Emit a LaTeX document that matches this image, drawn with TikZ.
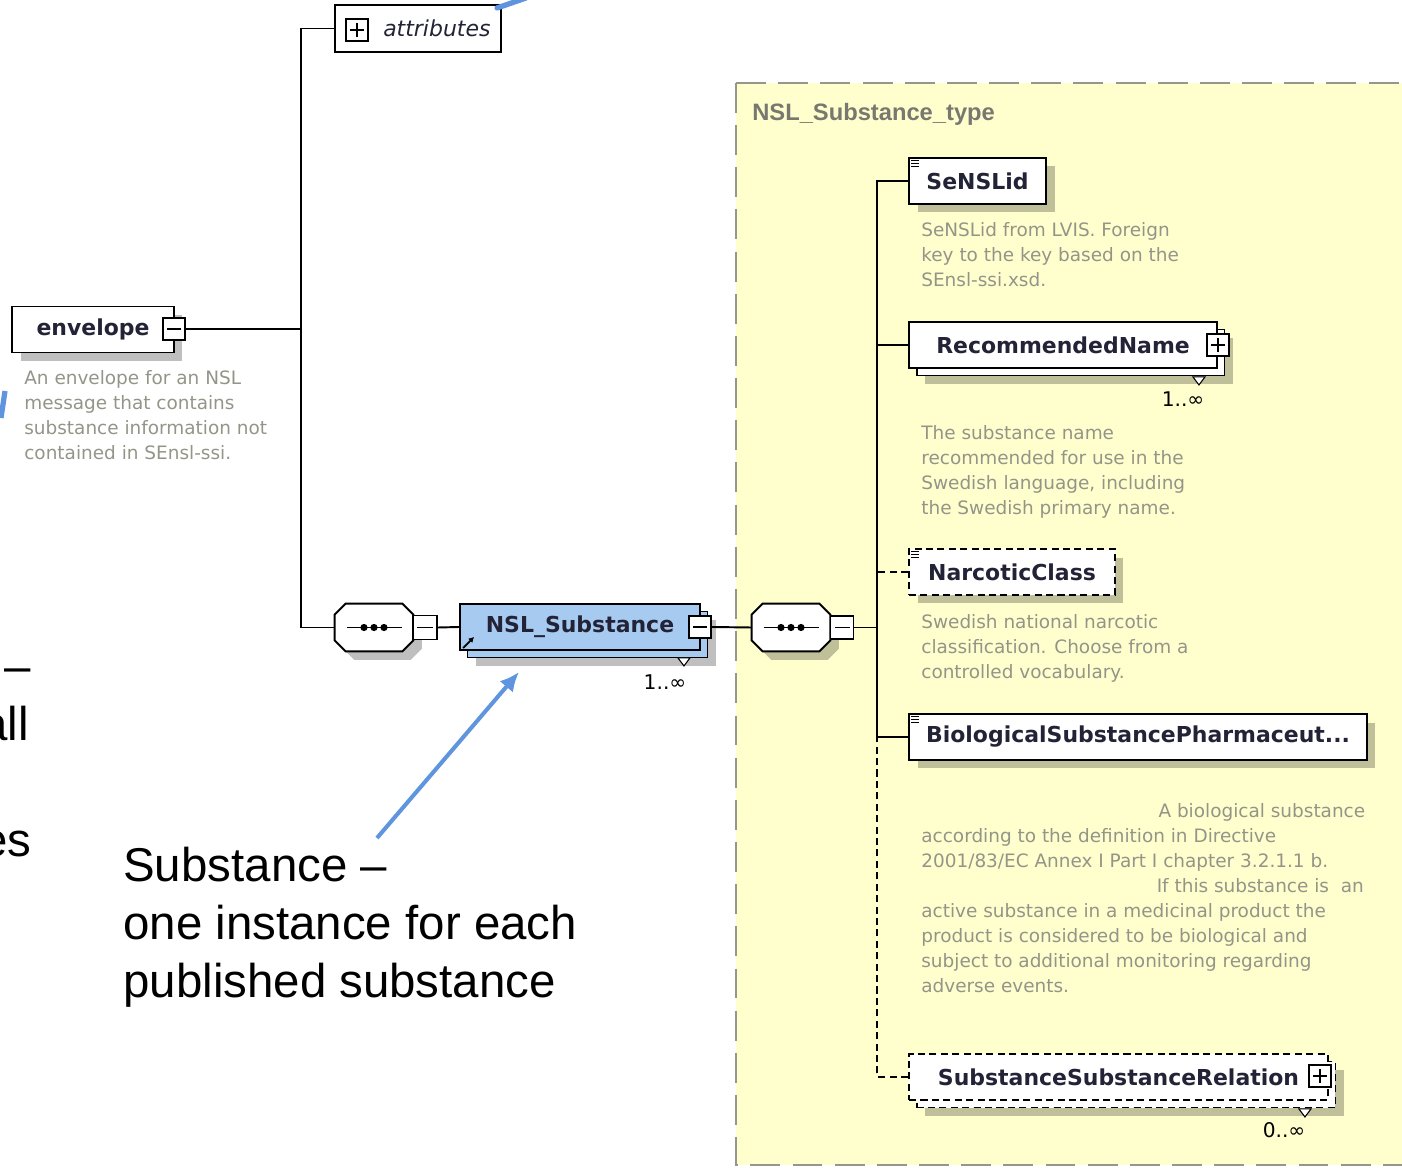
\documentclass[tikz,border=0pt]{standalone}
\usepackage{fontspec}
\setmainfont{DejaVu Sans}
\newfontfamily\arialfont{Liberation Sans}
\usetikzlibrary{shadows,arrows.meta}

\definecolor{typeyellow}{RGB}{255,255,206}
\definecolor{typeborder}{RGB}{150,150,140}
\definecolor{descgray}{RGB}{148,148,136}
\definecolor{namecol}{RGB}{35,35,55}
\definecolor{nslblue}{RGB}{166,202,240}
\definecolor{noteblue}{RGB}{95,148,222}

\tikzset{
  conn/.style={line width=1.1pt},
  optconn/.style={line width=1.1pt, dash pattern=on 4pt off 2.5pt},
  elembase/.style={draw, line width=1.1pt, fill=white, minimum height=0.92cm, inner sep=0pt,
    font=\bfseries\fontsize{12.5}{15}\selectfont, text=namecol},
  elem/.style={elembase, drop shadow={shadow xshift=0.17cm, shadow yshift=-0.17cm, fill=black, opacity=0.25}},
  multielem/.style={elembase, drop shadow={shadow xshift=0.32cm, shadow yshift=-0.32cm, fill=black, opacity=0.25},
    copy shadow={shadow xshift=0.15cm, shadow yshift=-0.15cm}},
  optional/.style={dash pattern=on 4pt off 2.5pt},
  togglebox/.style={draw, line width=1pt, fill=white, minimum size=0.44cm, inner sep=0pt},
  minusbox/.style={togglebox, path picture={
    \draw[line width=0.9pt] ([xshift=0.08cm]path picture bounding box.west) -- ([xshift=-0.08cm]path picture bounding box.east);}},
  plusbox/.style={togglebox, path picture={
    \draw[line width=0.9pt] ([xshift=0.08cm]path picture bounding box.west) -- ([xshift=-0.08cm]path picture bounding box.east);
    \draw[line width=0.9pt] ([yshift=-0.08cm]path picture bounding box.north) -- ([yshift=0.08cm]path picture bounding box.south);}},
  seqsym/.style={minimum width=1.56cm, minimum height=0.94cm, inner sep=0pt},
  seqoutline/.style={draw, line width=1.1pt, fill=white,
    drop shadow={shadow xshift=0.17cm, shadow yshift=-0.17cm, fill=black, opacity=0.25}},
  desc/.style={anchor=north west, align=left, inner sep=0pt, font=\fontsize{10.5}{14.2}\selectfont, text=descgray},
  mult/.style={inner sep=0pt, font=\fontsize{11.5}{13}\selectfont},
  typebox/.style={draw=typeborder, fill=typeyellow, line width=1.1pt, dash pattern=on 17pt off 7pt},
  typetitle/.style={anchor=west, inner sep=0pt, text=typeborder!80!black, font=\arialfont\bfseries\fontsize{13.5}{16}\selectfont},
  notetext/.style={inner sep=0pt, align=left, font=\arialfont\fontsize{27}{33}\selectfont},
  bluearrow/.style={draw=noteblue, line width=2.3pt}
}

\begin{document}
\begin{tikzpicture}[x=0.02cm, y=-0.02cm]
  \path[use as bounding box, clip] (0,0) rectangle (1402,1168);

  % Type box
  \draw[typebox] (736,83) rectangle (1440,1165);
  \node[typetitle] (typeTitle) at (752,114) {NSL\_Substance\_type};

  % Root element and attributes
  \node[elem, minimum width=3.24cm] (env) at (93,329.5) {envelope};
  \node[minusbox] (minusE) at (174,329) {};
  \node[desc] (envDesc) at (24,370) {An envelope for an NSL\\message that contains\\substance information not\\contained in SEnsl-ssi.};
  \node[elembase, font=\itshape\fontsize{12.5}{15}\selectfont, text width=2.9cm, align=right,
    inner xsep=0.21cm, minimum height=0.94cm] (attr) at (418,28.5) {attributes};
  \node[plusbox] (plusA) at (357,30) {};

  % Sequences
  \node[seqsym] (seqA) at (374,627.5) {};
  \node[seqsym] (seqB) at (791,627.5) {};
  \foreach \s in {seqA,seqB} {
    \draw[seqoutline] ([xshift=0.22cm]\s.north west) -- ([xshift=-0.22cm]\s.north east)
      -- ([yshift=-0.22cm]\s.north east) -- ([yshift=0.22cm]\s.south east)
      -- ([xshift=-0.22cm]\s.south east) -- ([xshift=0.22cm]\s.south west)
      -- ([yshift=0.22cm]\s.south west) -- ([yshift=-0.22cm]\s.north west) -- cycle;
    \draw[line width=1pt] ([xshift=-0.55cm]\s.center) -- ([xshift=0.55cm]\s.center);
    \foreach \dx in {-10,0,10}
      \fill ([xshift=\dx*0.02cm]\s.center) circle (3.6);
  }
  \node[minusbox, minimum size=0.48cm] (minusA) at (425,627.5) {};
  \node[minusbox, minimum size=0.46cm] (minusB) at (842,627.5) {};

  % NSL_Substance
  \node[multielem, fill=nslblue, minimum width=4.8cm] (nsl) at (580,627) {NSL\_Substance};
  \node[minusbox] (minusN) at (700,627) {};
  \draw[fill=white, line width=0.6pt] ([shift={(-23,7)}]nsl.south east) -- ++(12,0) -- ++(-6,8) -- cycle;
  \node[mult] (multN) at (665,682) {1..∞};
  \draw[line width=1pt, -{Latex[length=3pt,width=3.5pt]}] ([shift={(4,-3)}]nsl.south west) -- ++(11,-11);

  % Child elements
  \node[elem, minimum width=2.74cm] (sensl) at (977.5,181) {SeNSLid};
  \node[desc] (senslDesc) at (921,222) {SeNSLid from LVIS. Foreign\\key to the key based on the\\SEnsl-ssi.xsd.};

  \node[multielem, minimum width=6.16cm] (rec) at (1063,345) {RecommendedName};
  \node[plusbox] (plusR) at (1218,345) {};
  \draw[fill=white, line width=0.6pt] ([shift={(-25,8)}]rec.south east) -- ++(12,0) -- ++(-6,8) -- cycle;
  \node[mult] (multR) at (1183,399) {1..∞};
  \node[desc] (recDesc) at (921,425) {The substance name\\recommended for use in the\\Swedish language, including\\the Swedish primary name.};

  \node[elem, optional, minimum width=4.12cm] (narc) at (1012,572) {NarcoticClass};
  \node[desc] (narcDesc) at (921,614) {Swedish national narcotic\\classification. Choose from a\\controlled vocabulary.};

  \node[elem, minimum width=9.16cm] (bio) at (1138,737) {BiologicalSubstancePharmaceut...};
  \node[desc] (bioDesc) at (921,803) {\hspace*{135pt}A biological substance\\according to the definition in Directive\\2001/83/EC Annex I Part I chapter 3.2.1.1 b.\\\hspace*{134pt}If this substance is\ \ an\\active substance in a medicinal product the\\product is considered to be biological and\\subject to additional monitoring regarding\\adverse events.};

  \node[multielem, optional, minimum width=8.38cm] (ssr) at (1118.5,1077) {SubstanceSubstanceRelation};
  \node[plusbox] (plusS) at (1320,1076) {};
  \draw[fill=white, line width=0.6pt] ([shift={(-30,8)}]ssr.south east) -- ++(12,0) -- ++(-6,8) -- cycle;
  \node[mult] (multS) at (1284,1130) {0..∞};

  % Icons
  \foreach \n in {sensl,narc,bio}
    \foreach \dy in {3,6,9}
      \draw[line width=0.5pt] ([shift={(3,\dy)}]\n.north west) -- ++(8,0);

  % Connectors
  \coordinate (trunkL) at (301,627.5);
  \draw[conn] (attr.west) -| (trunkL) -- (seqA.west);
  \draw[conn] (minusE.east) -- (minusE.east -| trunkL);
  \draw[conn] (minusA.east) -- (nsl.west);
  \draw[conn] (minusN.east) -- (seqB.west);
  \draw[conn] (minusB.east) -- ++(23,0) coordinate (trunkR);
  \draw[conn] (sensl.west) -| (trunkR);
  \draw[conn] (bio.west) -| (trunkR);
  \draw[conn] (rec.west) -- (rec.west -| trunkR);
  \draw[optconn] (narc.west) -- (narc.west -| trunkR);
  \draw[optconn] (ssr.west) -| (bio.west -| trunkR);

  % Notes
  \node[notetext, anchor=north west] (subsNote) at (123,847) {Substance –\\one instance for each\\published substance};
  \node[notetext, anchor=base east] (fragA) at (31,682) {–};
  \node[notetext, anchor=base east] (fragB) at (29,740) {all};
  \node[notetext, anchor=base east] (fragC) at (32,856) {es};

  \coordinate (subsTail) at (377,838);
  \coordinate (subsHead) at (519,672);
  \draw[bluearrow, -{Latex[length=11pt,width=10pt]}] (subsTail) -- (subsHead);
  \coordinate (topTail) at (497,8);
  \coordinate (topHead) at (526,-2);
  \draw[bluearrow, line width=3pt, line cap=round] (topTail) -- (topHead);
  \coordinate (leftTail) at (1,418);
  \coordinate (leftHead) at (5,391);
  \draw[bluearrow, line width=3pt] (leftTail) -- (leftHead);
\end{tikzpicture}
\end{document}
